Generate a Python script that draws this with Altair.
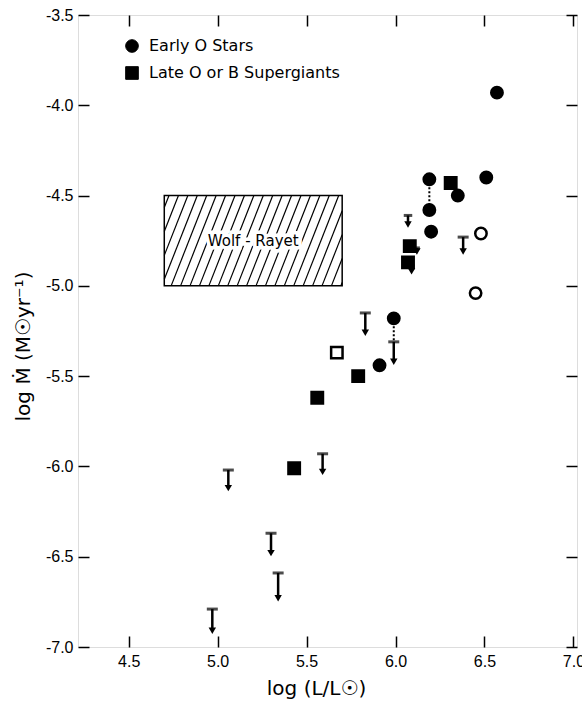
import altair as alt
import pandas as pd

# ---------------- data ----------------
early_L = [6.57, 6.19, 6.19, 6.20, 6.35, 6.51, 5.99, 5.91]
early_M = [-3.93, -4.41, -4.58, -4.70, -4.50, -4.40, -5.18, -5.44]
early_open_L = [6.48, 6.45]
early_open_M = [-4.71, -5.04]
late_L = [6.31, 6.08, 6.07, 5.79, 5.56, 5.43]
late_M = [-4.43, -4.78, -4.87, -5.50, -5.62, -6.01]
late_open_L = [5.67]
late_open_M = [-5.37]

limit_L = [6.07, 6.38, 5.83, 5.99, 5.59, 5.06, 5.30, 5.34, 4.97, 6.12, 6.09]
limit_top = [-4.61, -4.73, -5.15, -5.31, -5.93, -6.02, -6.37, -6.59, -6.79, -4.79, -4.89]
limit_bottom = [-4.66, -4.81, -5.26, -5.42, -6.03, -6.12, -6.48, -6.73, -6.91, -4.81, -4.92]
limit_kind = ["small", "full", "full", "full", "full", "full", "full", "full", "full", "head", "head"]

link_L = [6.19, 5.99]
link_from = [-4.41, -5.18]
link_to = [-4.58, -5.31]

wr_L = [4.70, 5.70]
wr_M = [-5.00, -4.50]
wr_label = "Wolf - Rayet"

x_ticks = [4.5, 5.0, 5.5, 6.0, 6.5, 7.0]
y_ticks = [-7.0, -6.5, -6.0, -5.5, -5.0, -4.5, -4.0, -3.5]
classes = ["Early O Stars", "Late O or B Supergiants"]

# ---------------- tables ----------------
pts = pd.DataFrame({
    "L": early_L + early_open_L + late_L + late_open_L,
    "M": early_M + early_open_M + late_M + late_open_M,
    "cls": [classes[0]] * (len(early_L) + len(early_open_L)) + [classes[1]] * (len(late_L) + len(late_open_L)),
    "fill": ["filled"] * len(early_L) + ["open"] * len(early_open_L) + ["filled"] * len(late_L) + ["open"] * len(late_open_L),
})
lims = pd.DataFrame({"L": limit_L, "top": limit_top, "bot": limit_bottom, "kind": limit_kind})
links = pd.DataFrame({"L": link_L, "a": link_from, "b": link_to})
box = pd.DataFrame({"x1": [wr_L[0]], "x2": [wr_L[1]], "y1": [wr_M[0]], "y2": [wr_M[1]]})
lab = pd.DataFrame({"L": [sum(wr_L) / 2], "M": [sum(wr_M) / 2], "t": [wr_label]})

# hatch pattern inside the Wolf-Rayet box (decoration, clipped to the box)
step, lean = 0.053, 0.20
segs = []
a = wr_L[0] - lean + step / 2
while a < wr_L[1]:
    xb, yb = a, wr_M[0]
    xt, yt = a + lean, wr_M[1]
    if xb < wr_L[0]:
        yb = wr_M[0] + (wr_M[1] - wr_M[0]) * (wr_L[0] - a) / lean
        xb = wr_L[0]
    if xt > wr_L[1]:
        yt = wr_M[0] + (wr_M[1] - wr_M[0]) * (wr_L[1] - a) / lean
        xt = wr_L[1]
    segs.append({"x1": xb, "y1": yb, "x2": xt, "y2": yt})
    a += step
hatch = pd.DataFrame(segs)

# ---------------- scales / helpers ----------------
XS = alt.Scale(domain=[4.215, 7.02], nice=False, zero=False)
YS = alt.Scale(domain=[-7.0, -3.5], nice=False, zero=False)
LABEL_FONT = "Liberation Sans"
TEXT_FONT = "DejaVu Sans"
LABEL_EXPR = "replace(format(datum.value, '.1f'), '\u2212', '-')"


def X(f):
    return alt.X(f, type="quantitative", scale=XS, axis=None)


def Y(f):
    return alt.Y(f, type="quantitative", scale=YS, axis=None)


common_axis = dict(grid=False, domain=False, ticks=True, tickSize=11, tickWidth=1.5,
                   tickColor="black", offset=-11, labelFlush=False, labelOverlap=False)

# frame layer with top/right inward ticks
frame = alt.Chart(box).mark_rect(fill="transparent", stroke="black", strokeWidth=1.5).encode(
    x=alt.X("x1:Q", scale=XS, axis=alt.Axis(orient="top", values=x_ticks, labels=False, title=None, **common_axis)),
    x2="x2:Q",
    y=alt.Y("y1:Q", scale=YS, axis=alt.Axis(orient="right", values=y_ticks, labels=False, title=None, **common_axis)),
    y2="y2:Q",
)

hatch_layer = alt.Chart(hatch).mark_rule(color="black", strokeWidth=1.2).encode(
    x=X("x1"), y=Y("y1"), x2="x2:Q", y2="y2:Q"
)

halo = alt.Chart(lab).mark_text(font=TEXT_FONT, fontSize=15, color="white", stroke="white", strokeWidth=7).encode(
    x=X("L"), y=Y("M"), text="t:N"
)
label = alt.Chart(lab).mark_text(font=TEXT_FONT, fontSize=15, color="black").encode(
    x=X("L"), y=Y("M"), text="t:N"
)

link_layer = alt.Chart(links).mark_rule(color="black", strokeWidth=2, strokeDash=[2, 2]).encode(
    x=X("L"), y=Y("a"), y2="b:Q"
)

lim_rule = alt.Chart(lims).mark_rule(color="black", strokeWidth=2.5).encode(
    x=X("L"), y=Y("top"), y2="bot:Q"
)
lim_bar = alt.Chart(lims).mark_tick(orient="horizontal", thickness=3, color="black").encode(
    x=X("L"), y=Y("top"),
    size=alt.Size("kind:N", scale=alt.Scale(domain=["full", "small", "head"], range=[11, 6, 0]), legend=None),
)
lim_head = alt.Chart(lims).mark_point(shape="triangle-down", filled=True, color="black", opacity=1).encode(
    x=X("L"), y=Y("bot"),
    strokeWidth=alt.StrokeWidth("kind:N", scale=alt.Scale(domain=["full", "small", "head"], range=[0, 0, 0]), legend=None),
    opacity=alt.value(1),
)

points = alt.Chart(pts).mark_point(filled=True, opacity=1, strokeWidth=2.5, size=130).encode(
    x=alt.X("L:Q", scale=XS, axis=alt.Axis(
        orient="bottom", values=x_ticks, labelExpr=LABEL_EXPR, title="log (L/L☉)",
        labelFont=LABEL_FONT, labelFontSize=16, labelColor="black", labelPadding=6,
        titleFont=TEXT_FONT, titleFontSize=20, titleFontWeight="normal", titleColor="black",
        titlePadding=9, titleX=238,
        **common_axis)),
    y=alt.Y("M:Q", scale=YS, axis=alt.Axis(
        orient="left", values=y_ticks, labelExpr=LABEL_EXPR, title="log Ṁ (M☉yr⁻¹)",
        labelFont=LABEL_FONT, labelFontSize=16, labelColor="black", labelPadding=5,
        titleFont=TEXT_FONT, titleFontSize=20, titleFontWeight="normal", titleColor="black",
        titlePadding=12, titleY=331,
        **common_axis)),
    shape=alt.Shape("cls:N", scale=alt.Scale(domain=classes, range=["circle", "square"]),
                    legend=alt.Legend(title=None, orient="none", legendX=46, legendY=23, padding=0,
                                      symbolSize=160, symbolFillColor="black", symbolStrokeColor="black",
                                      symbolStrokeWidth=1, labelFont=TEXT_FONT, labelFontSize=16,
                                      labelColor="black", labelOffset=9, rowPadding=9, labelLimit=400)),
    fill=alt.Fill("fill:N", scale=alt.Scale(domain=["filled", "open"], range=["black", "white"]), legend=None),
    stroke=alt.value("black"),
)

# arrowhead size via mark property (no shared size scale)
lim_head = alt.Chart(lims).mark_point(shape="triangle-down", filled=True, color="black", opacity=1, size=55).encode(
    x=X("L"), y=Y("bot"),
)

chart = alt.layer(
    hatch_layer, frame, halo, label, link_layer, lim_rule, lim_bar, lim_head, points
).resolve_axis(x="independent", y="independent").properties(
    width=499, height=632,
    autosize=alt.AutoSizeParams(type="none"),
    padding={"left": 78, "top": 15, "right": 5, "bottom": 61},
).configure_view(stroke="black", strokeWidth=2).configure(background="white")

chart.save("out.html", embed_options={"renderer": "svg", "actions": False})
